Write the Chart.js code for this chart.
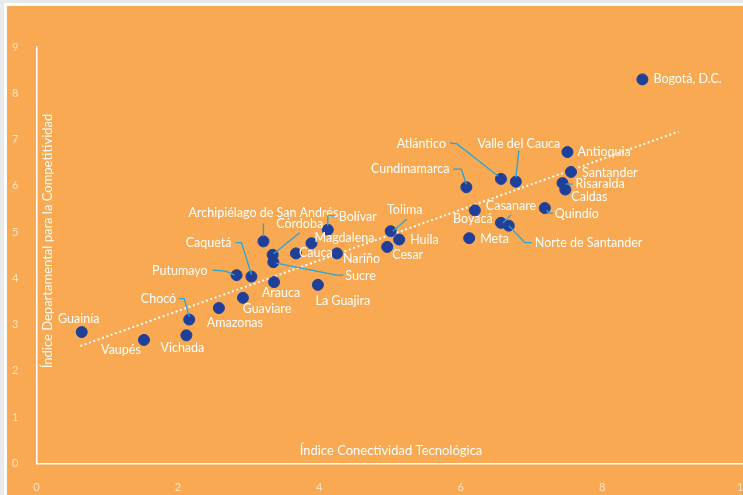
<!DOCTYPE html>
<html>
<head>
<meta charset="utf-8">
<script src="https://cdn.jsdelivr.net/npm/chart.js@4.4.1/dist/chart.umd.min.js"></script>
<style>
    html, body { margin: 0; padding: 0; background: #e8e9eb; }
    #frame {
        position: absolute; left: 4px; top: 3px; width: 739px; height: 492px;
        background: #ffffff;
    }
    #panel {
        position: absolute; left: 3px; top: 3px; width: 736px; height: 489px;
        background: #f8a951; overflow: hidden;
    }
    canvas { position: absolute; left: 0; top: 0; }
</style>
</head>
<body>
<div id="frame"><div id="panel"><canvas id="chart" width="760" height="489"></canvas></div></div>
<script>
// datos por departamento
const departamentos = [
    'Bogotá, D.C.', 'Guainía', 'Vaupés', 'Vichada', 'Chocó', 'Amazonas', 'Guaviare',
    'Putumayo', 'Caquetá', 'Arauca', 'Archipiélago de San Andrés', 'Córdoba', 'Sucre',
    'Cauca', 'Magdalena', 'Bolívar', 'Nariño', 'La Guajira', 'Tolima', 'Huila', 'Cesar',
    'Atlántico', 'Valle del Cauca', 'Cundinamarca', 'Antioquia', 'Santander', 'Risaralda',
    'Caldas', 'Quindío', 'Boyacá', 'Casanare', 'Norte de Santander', 'Meta'
];
const conectividad = [
    8.57, 0.64, 1.52, 2.12, 2.16, 2.58, 2.92,
    2.83, 3.04, 3.36, 3.21, 3.34, 3.35,
    3.67, 3.89, 4.12, 4.25, 3.98, 5.01, 5.13, 4.96,
    6.57, 6.78, 6.08, 7.51, 7.56, 7.44,
    7.48, 7.19, 6.20, 6.57, 6.68, 6.12
];
const competitividad = [
    8.30, 2.84, 2.67, 2.77, 3.11, 3.36, 3.58,
    4.07, 4.04, 3.92, 4.80, 4.51, 4.35,
    4.54, 4.76, 5.05, 4.54, 3.86, 5.02, 4.84, 4.68,
    6.15, 6.09, 5.97, 6.73, 6.30, 6.06,
    5.92, 5.52, 5.47, 5.20, 5.14, 4.87
];
// línea de tendencia (extremos)
const tendenciaX = [0.62, 9.08];
const tendenciaY = [2.54, 7.17];

const tituloX = 'Índice Conectividad Tecnológica';
const tituloY = 'Índice Departamental para la Competitividad';

// ubicación de etiquetas relativa al punto (px)
const etiquetas = {
    'Bogotá, D.C.': { dx: 11, dy: 0, align: 'left' },
    'Guainía': { dx: -3, dy: -13 },
    'Vaupés': { dx: -23, dy: 10 },
    'Vichada': { dx: -4, dy: 13 },
    'Chocó': { dx: -13, dy: -21, align: 'right', line: [[-10, -21], [-5, -21], [0, -3]] },
    'Amazonas': { dx: 16, dy: 15 },
    'Guaviare': { dx: 24, dy: 11 },
    'Putumayo': { dx: -29, dy: -4, align: 'right', line: [[-24, -5], [-11, -4], [-2, 0]] },
    'Caquetá': { dx: -20, dy: -34, align: 'right', line: [[-16, -34], [-10, -34], [0, -2]] },
    'Arauca': { dx: 7, dy: 11 },
    'Archipiélago de San Andrés': { dx: 0, dy: -28, line: [[0, -18], [0, -5]] },
    'Córdoba': { dx: 27, dy: -31, line: [[27, -22], [1, -1]] },
    'Sucre': { dx: 72, dy: 14, align: 'left', line: [[3, 1], [63, 13], [70, 13]] },
    'Cauca': { dx: 3, dy: 0, align: 'left' },
    'Magdalena': { dx: 3, dy: -5, align: 'left' },
    'Bolívar': { dx: 11, dy: -13, align: 'left', line: [[7, -14], [0, -14], [0, -4]] },
    'Nariño': { dx: 6, dy: 6, align: 'left' },
    'La Guajira': { dx: 25, dy: 16 },
    'Tolima': { dx: 14, dy: -21, line: [[16, -12], [2, 0]] },
    'Huila': { dx: 11, dy: 0, align: 'left' },
    'Cesar': { dx: 5, dy: 8, align: 'left' },
    'Atlántico': { dx: -55, dy: -35, align: 'right', line: [[-51, -36], [-44, -35], [-3, -3]] },
    'Valle del Cauca': { dx: 3, dy: -38, line: [[3, -31], [0, -4]] },
    'Cundinamarca': { dx: -17, dy: -18, align: 'right', line: [[-13, -18], [-5, -18], [0, -3]] },
    'Antioquia': { dx: 10, dy: 0, align: 'left' },
    'Santander': { dx: 11, dy: 1, align: 'left' },
    'Risaralda': { dx: 13, dy: 1, align: 'left', line: [[3, 1], [10, 1]] },
    'Caldas': { dx: 6, dy: 7, align: 'left' },
    'Quindío': { dx: 10, dy: 6, align: 'left', line: [[2, 2], [4, 5], [8, 5]] },
    'Boyacá': { dx: -2, dy: 9 },
    'Casanare': { dx: 10, dy: -17, line: [[10, -8], [2, 0]] },
    'Norte de Santander': { dx: 26, dy: 17, align: 'left', line: [[0, 0], [16, 17], [23, 17]] },
    'Meta': { dx: 11, dy: 1, align: 'left' }
};

const puntos = departamentos.map((d, i) => ({ x: conectividad[i], y: competitividad[i] }));
const tendencia = tendenciaX.map((x, i) => ({ x: x, y: tendenciaY[i] }));

// etiquetas, líneas guía y títulos de ejes
const etiquetasPlugin = {
    id: 'etiquetas',
    afterDatasetsDraw(chart) {
        const ctx = chart.ctx;
        const meta = chart.getDatasetMeta(0);
        ctx.save();
        ctx.font = '12.5px Lato';
        ctx.textBaseline = 'middle';
        meta.data.forEach((pt, i) => {
            const cfg = etiquetas[departamentos[i]];
            if (!cfg) return;
            if (cfg.line) {
                ctx.strokeStyle = '#23a6dc';
                ctx.lineWidth = 1.3;
                ctx.beginPath();
                cfg.line.forEach((p, j) => {
                    if (j === 0) ctx.moveTo(pt.x + p[0], pt.y + p[1]);
                    else ctx.lineTo(pt.x + p[0], pt.y + p[1]);
                });
                ctx.stroke();
            }
            ctx.fillStyle = '#ffffff';
            ctx.textAlign = cfg.align || 'center';
            ctx.fillText(departamentos[i], pt.x + cfg.dx, pt.y + cfg.dy);
        });

        const area = chart.chartArea;
        ctx.font = '13px Lato';
        ctx.fillStyle = '#ffffff';
        ctx.textAlign = 'center';
        ctx.fillText(tituloX, 384, area.bottom - 13);
        ctx.translate(area.left + 11.5, 235);
        ctx.rotate(-Math.PI / 2);
        ctx.fillText(tituloY, 0, 0);
        ctx.restore();
    }
};

const ctx = document.getElementById('chart').getContext('2d');
const chart = new Chart(ctx, {
    type: 'scatter',
    data: {
        datasets: [{
            label: 'Departamentos',
            data: puntos,
            backgroundColor: '#1f3f98',
            borderColor: '#1f3f98',
            pointRadius: 5.5,
            order: 0
        }, {
            type: 'line',
            label: 'Tendencia',
            data: tendencia,
            borderColor: '#ffffff',
            borderWidth: 2,
            borderDash: [2, 2.6],
            pointRadius: 0,
            fill: false,
            order: 1
        }]
    },
    options: {
        responsive: false,
        animation: false,
        layout: {
            padding: { top: 41, right: 23.5, bottom: 0, left: 0 }
        },
        plugins: {
            legend: { display: false },
            tooltip: { enabled: false }
        },
        scales: {
            x: {
                type: 'linear',
                min: 0,
                max: 10,
                grid: { display: false },
                border: { color: '#ffffff', width: 1.5 },
                ticks: {
                    stepSize: 2,
                    color: '#fde4c6',
                    padding: 9,
                    font: { family: 'Lato', size: 11 }
                },
                afterFit(scale) { scale.height = 31.5; }
            },
            y: {
                min: 0,
                max: 9,
                grid: { display: false },
                border: { color: '#ffffff', width: 1.5 },
                ticks: {
                    stepSize: 1,
                    color: '#fde4c6',
                    padding: 10,
                    font: { family: 'Lato', size: 11 }
                },
                afterFit(scale) { scale.width = 29.5; }
            }
        }
    },
    plugins: [etiquetasPlugin]
});
</script>
</body>
</html>
